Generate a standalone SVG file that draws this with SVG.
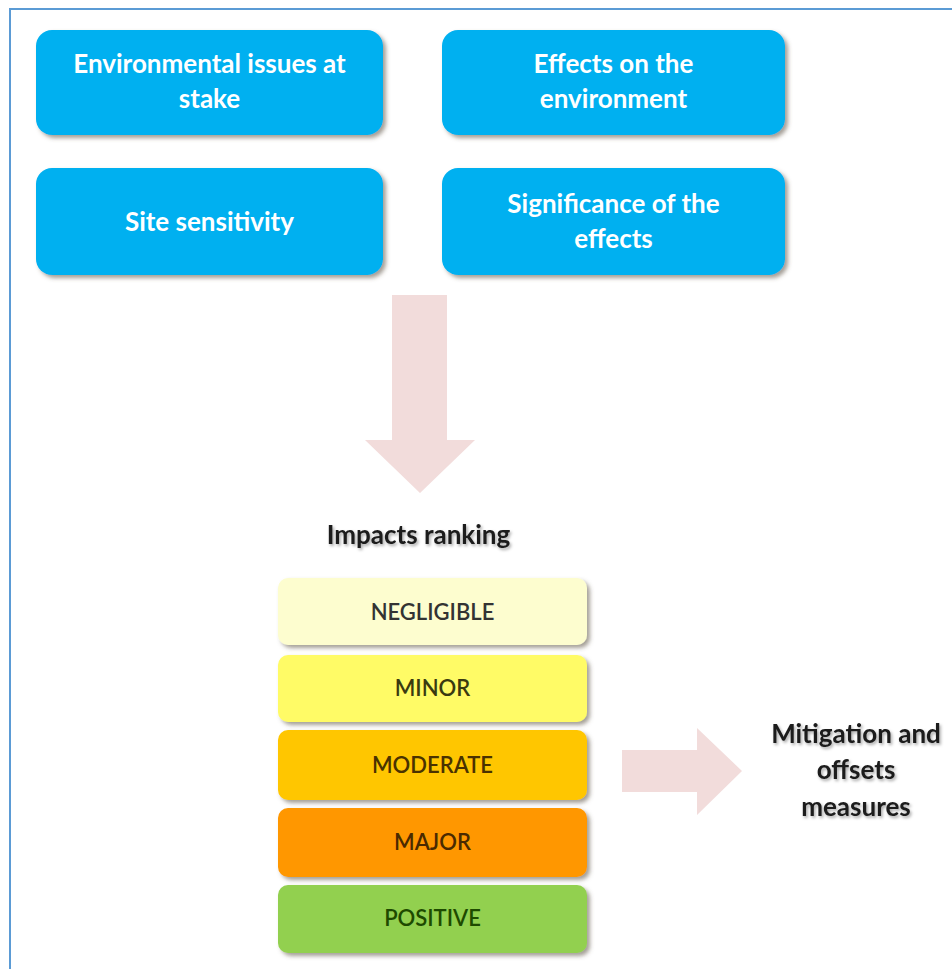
<svg xmlns="http://www.w3.org/2000/svg" width="952" height="969" viewBox="0 0 952 969">
<defs>
<filter id="sh" x="-10%" y="-10%" width="125%" height="135%">
<feDropShadow dx="3" dy="3" stdDeviation="2" flood-color="#5a5040" flood-opacity="0.55"/>
</filter>
<filter id="tsh" x="-10%" y="-20%" width="125%" height="160%">
<feDropShadow dx="1.5" dy="2" stdDeviation="1.5" flood-color="#000" flood-opacity="0.35"/>
</filter>
</defs>
<style>
.blue{fill:#00B0F0;filter:url(#sh)}
.bt{font-family:Lato,"Open Sans","Liberation Sans",sans-serif;font-weight:bold;font-size:26px;fill:#fff;text-anchor:middle}
.rk{filter:url(#sh)}
.rt{font-family:Lato,"Open Sans","Liberation Sans",sans-serif;font-size:22px;text-anchor:middle;font-weight:600}
.lab{font-family:Lato,"Open Sans","Liberation Sans",sans-serif;font-weight:bold;font-size:26px;fill:#1a1a1a;text-anchor:middle;filter:url(#tsh)}
.arr{fill:#F2DCDB}
</style>
<rect width="952" height="969" fill="#fff"/>
<path d="M10,969 V9 H952" fill="none" stroke="#5B9BD5" stroke-width="2"/>

<g id="n-issues">
<rect class="blue" x="36" y="30" width="347" height="105" rx="16"/>
<text class="bt" x="209.5" y="73">Environmental issues at</text>
<text class="bt" x="209.5" y="108">stake</text>
</g>
<g id="n-effects">
<rect class="blue" x="442" y="30" width="343" height="105" rx="16"/>
<text class="bt" x="613.5" y="73">Effects on the</text>
<text class="bt" x="613.5" y="108">environment</text>
</g>
<g id="n-site">
<rect class="blue" x="36" y="168" width="347" height="107" rx="16"/>
<text class="bt" x="209.5" y="231">Site sensitivity</text>
</g>
<g id="n-significance">
<rect class="blue" x="442" y="168" width="343" height="107" rx="16"/>
<text class="bt" x="613.5" y="213">Significance of the</text>
<text class="bt" x="613.5" y="248">effects</text>
</g>

<g id="connectors">
<path class="arr" d="M392,295 H447 V440 H475 L420,493 L365,440 H392 Z"/>
<path class="arr" d="M622,750 H697 V728 L742,771 L697,815 V792 H622 Z"/>
</g>

<g id="n-impacts-label">
<text class="lab" x="418.5" y="544">Impacts ranking</text>
</g>

<g id="n-negligible">
<rect class="rk" x="278" y="578" width="309" height="67" rx="10" fill="#FDFDCF"/>
<text class="rt" x="432.5" y="620" fill="#333">NEGLIGIBLE</text>
</g>
<g id="n-minor">
<rect class="rk" x="278" y="655" width="309" height="67" rx="10" fill="#FFFB66"/>
<text class="rt" x="432.5" y="696" fill="#3a3a10">MINOR</text>
</g>
<g id="n-moderate">
<rect class="rk" x="278" y="730" width="309" height="70" rx="10" fill="#FFC600"/>
<text class="rt" x="432.5" y="773" fill="#4a3200">MODERATE</text>
</g>
<g id="n-major">
<rect class="rk" x="278" y="808" width="309" height="69" rx="10" fill="#FF9700"/>
<text class="rt" x="432.5" y="850" fill="#4a2a00">MAJOR</text>
</g>
<g id="n-positive">
<rect class="rk" x="278" y="885" width="309" height="68" rx="10" fill="#92D050"/>
<text class="rt" x="432.5" y="926" fill="#1e4a00">POSITIVE</text>
</g>

<g id="n-mitigation">
<text class="lab" x="856" y="743">Mitigation and</text>
<text class="lab" x="856" y="779">offsets</text>
<text class="lab" x="856" y="816">measures</text>
</g>
</svg>
